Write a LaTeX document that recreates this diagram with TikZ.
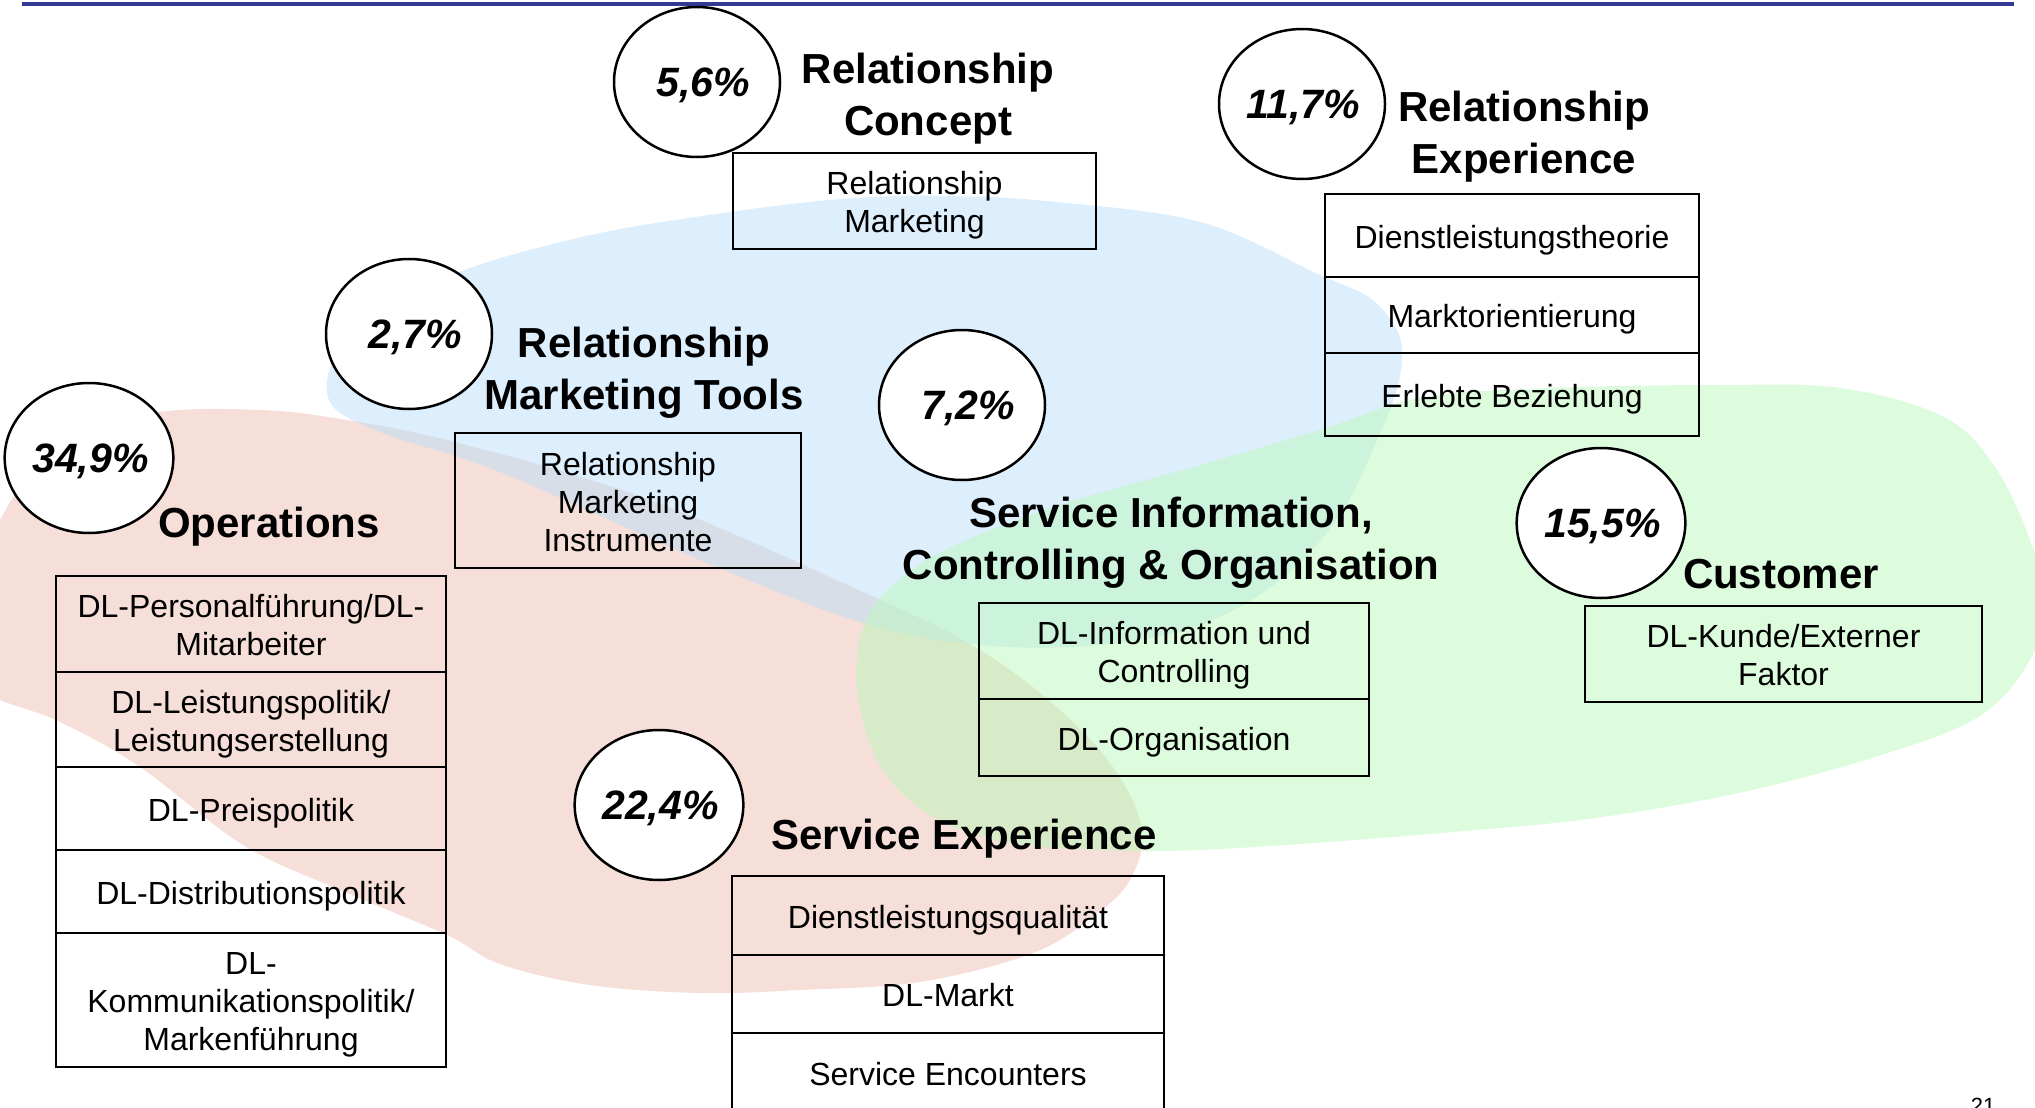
\documentclass[tikz,border=0pt]{standalone}
\usepackage{fontspec}
\setmainfont{Liberation Sans}
\usetikzlibrary{shapes.geometric}

\definecolor{rulecol}{RGB}{52,58,145}
\definecolor{redblob}{RGB}{235,191,177}
\definecolor{blueblob}{RGB}{187,221,249}
\definecolor{greenblob}{RGB}{187,249,187}

% line struts: a taller one for the first line of a block lowers the text a little
\newcommand\lf{\rule[-0.212em]{0pt}{1.217em}}   % first line, table cells
\newcommand\ls{\rule[-0.212em]{0pt}{0.905em}}   % following lines
\newcommand\lhf{\rule[-0.212em]{0pt}{1.167em}}  % first line, headings
\newcommand\lp{\rule[-0.212em]{0pt}{1.125em}}   % percentage figures

\tikzset{
  heading/.style={font=\fontsize{42}{52}\selectfont\bfseries, align=center, inner sep=0pt},
  pct/.style={ellipse, draw, line width=2.5pt, fill=white, minimum width=166pt,
              minimum height=150pt, inner sep=0pt,
              font=\fontsize{41}{48}\selectfont\bfseries\itshape},
  cell/.style={draw, line width=2.5pt, font=\fontsize{32}{38}\selectfont,
               align=center, inner sep=0pt},
  blob/.style={draw=none, fill opacity=0.5},
}

\begin{document}
\begin{tikzpicture}[x=1pt, y=-1pt]
\useasboundingbox (0,0) rectangle (2035,1108);

% translucent background areas
\fill[blob, redblob] plot[smooth cycle, tension=0.6] coordinates {
  (-40,610) (0,520) (40,462) (90,428) (167,411) (260,410) (334,418) (455,442)
  (650,500) (874,597) (980,650) (1060,710) (1115,770) (1142,830) (1130,880)
  (1095,915) (1033,953) (920,982) (800,990) (700,993) (590,985) (500,964)
  (447,935) (340,890) (243,845) (140,767) (60,722) (0,700) (-40,680)};
\fill[blob, blueblob] plot[smooth cycle, tension=0.6] coordinates {
  (329,400) (340,345) (386,308) (440,280) (501,258) (600,233) (702,216)
  (800,203) (874,197) (947,196) (1046,201) (1200,222) (1320,275) (1370,298)
  (1397,330) (1402,360) (1395,395) (1377,440) (1340,515) (1280,580) (1200,625)
  (1100,645) (980,645) (860,622) (700,560) (500,472) (380,432)};
\fill[blob, greenblob] plot[smooth cycle, tension=0.6] coordinates {
  (857,690) (866,620) (905,575) (960,543) (1060,505) (1200,465) (1320,430)
  (1420,398) (1550,388) (1720,385) (1841,388) (1944,417) (1995,467) (2030,540)
  (2045,600) (2030,660) (1978,717) (1875,757) (1739,793) (1602,817) (1500,828)
  (1300,844) (1150,851) (1012,843) (930,815) (880,765)};

% rule along the top edge
\coordinate (ruleL) at (22,4);
\coordinate (ruleR) at (2014,4);
\draw[rulecol, line width=4.5pt] (ruleL) -- (ruleR);

% percentage ellipses
\node[pct] (p56)  at (697,82)   {\hspace*{13pt}\lp 5,6\%};
\node[pct] (p117) at (1302,104) {\hspace*{3pt}\lp 11,7\%};
\node[pct] (p27)  at (409,334)  {\hspace*{13pt}\lp 2,7\%};
\node[pct] (p72)  at (962,405)  {\hspace*{13pt}\lp 7,2\%};
\node[pct] (p349) at (89,458)   {\hspace*{3pt}\lp 34,9\%};
\node[pct] (p155) at (1601,523) {\hspace*{3pt}\lp 15,5\%};
\node[pct] (p224) at (659,805)  {\hspace*{3pt}\lp 22,4\%};

% headings
\node[heading] (hRC)   at (928,93.5)   {\lhf Relationship\\\ls Concept};
\node[heading] (hRE)   at (1524,131.5) {\lhf Relationship\\\ls Experience};
\node[heading] (hRMT)  at (644,367.5)  {\lhf Relationship\\\ls Marketing Tools};
\node[heading] (hOps)  at (269,522)    {\lhf Operations};
\node[heading] (hSIC)  at (1171,537.5) {\lhf Service Information,\\\ls Controlling \& Organisation};
\node[heading] (hCust) at (1781,572.5) {\lhf Customer};
\node[heading] (hSE)   at (964,833.5)  {\lhf Service Experience};

% Relationship Concept
\node[cell, minimum width=363pt, minimum height=96pt] (rc) at (914.5,201)
  {\lf Relationship\\\ls Marketing};

% Relationship Marketing Tools
\node[cell, minimum width=346pt, minimum height=135pt] (rmt) at (628,500.5)
  {\lf Relationship\\\ls Marketing\\\ls Instrumente};

% Relationship Experience
\node[cell, minimum width=374pt, minimum height=83pt] (re1) at (1512,235.5) {\lf Dienstleistungstheorie};
\node[cell, minimum width=374pt, minimum height=76pt] (re2) at (1512,315)   {\lf Marktorientierung};
\node[cell, minimum width=374pt, minimum height=83pt] (re3) at (1512,394.5) {\lf Erlebte Beziehung};

% Operations
\node[cell, minimum width=390pt, minimum height=96pt]  (ops1) at (251,624)   {\lf DL-Personalführung/DL-\\\ls Mitarbeiter};
\node[cell, minimum width=390pt, minimum height=95pt]  (ops2) at (251,719.5) {\lf DL-Leistungspolitik/\\\ls Leistungserstellung};
\node[cell, minimum width=390pt, minimum height=83pt]  (ops3) at (251,808.5) {\lf DL-Preispolitik};
\node[cell, minimum width=390pt, minimum height=83pt]  (ops4) at (251,891.5) {\lf DL-Distributionspolitik};
\node[cell, minimum width=390pt, minimum height=134pt] (ops5) at (251,1000)  {\lf DL-\\\ls Kommunikationspolitik/\\\ls Markenführung};

% Service Information, Controlling & Organisation
\node[cell, minimum width=390pt, minimum height=96pt] (sic1) at (1174,651)   {\lf DL-Information und\\\ls Controlling};
\node[cell, minimum width=390pt, minimum height=77pt] (sic2) at (1174,737.5) {\lf DL-Organisation};

% Customer
\node[cell, minimum width=397pt, minimum height=96pt] (cust) at (1783.5,654) {\lf DL-Kunde/Externer\\\ls Faktor};

% Service Experience
\node[cell, minimum width=432pt, minimum height=79pt] (se1) at (948,915.5)  {\lf Dienstleistungsqualität};
\node[cell, minimum width=432pt, minimum height=78pt] (se2) at (948,994)    {\lf DL-Markt};
\node[cell, minimum width=432pt, minimum height=79pt] (se3) at (948,1072.5) {\lf Service Encounters};

% page number
\node[anchor=base, inner sep=0pt, font=\fontsize{22}{26}\selectfont] (pg) at (1983,1113) {21};
\end{tikzpicture}
\end{document}
